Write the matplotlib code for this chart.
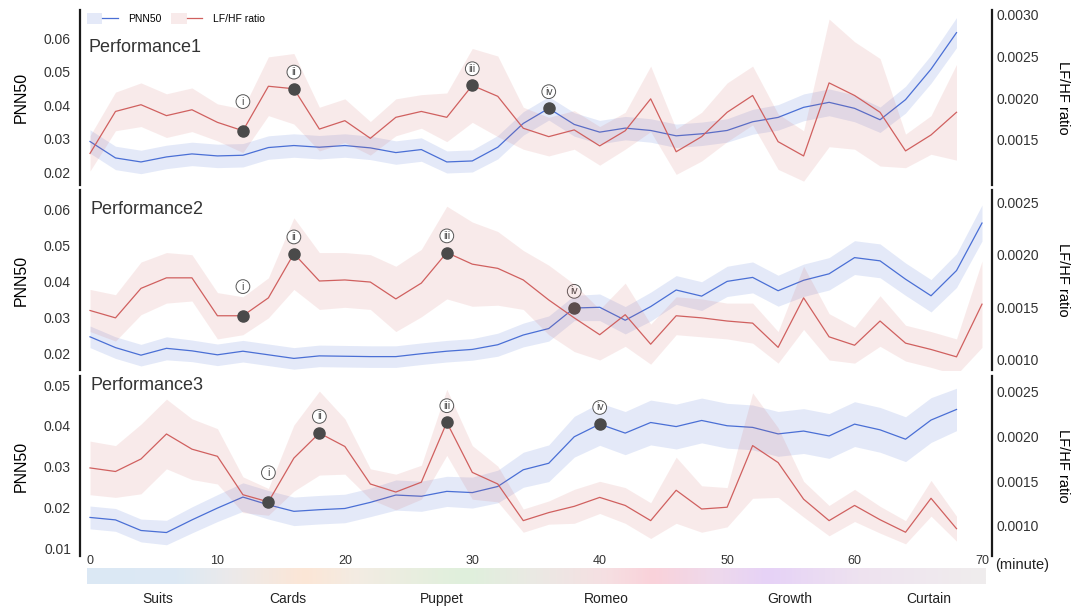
import numpy as np
import matplotlib
matplotlib.use("Agg")
import matplotlib.pyplot as plt
import matplotlib.transforms as mtransforms
from matplotlib.colors import LinearSegmentedColormap
from matplotlib.lines import Line2D
from matplotlib.patches import Patch
from matplotlib.legend_handler import HandlerTuple
from matplotlib.ticker import FormatStrFormatter

plt.rcParams['font.family'] = ['Liberation Sans', 'DejaVu Sans']

#! sampling grid (minutes), one value every 2 min
minutes = np.arange(0, 70, 2)       # performances 1 and 3: 0..68
minutes_p2 = np.arange(0, 72, 2)    # performance 2 runs to 70

#! performance 1
pnn_p1 = [0.0291, 0.0242, 0.0230, 0.0245, 0.0254, 0.0248, 0.0250, 0.0273, 0.0279,
          0.0274, 0.0279, 0.0272, 0.0258, 0.0267, 0.0230, 0.0233, 0.0274, 0.0345,
          0.0390, 0.0342, 0.0319, 0.0331, 0.0324, 0.0308, 0.0314, 0.0324, 0.0350,
          0.0363, 0.0393, 0.0408, 0.0390, 0.0356, 0.0416, 0.0507, 0.0616]
pnn_ci_p1 = [0.0035, 0.0035, 0.0035, 0.0035, 0.0035, 0.0035, 0.0035, 0.0035, 0.0035,
             0.0035, 0.0035, 0.0035, 0.0035, 0.0035, 0.0033, 0.0033, 0.0035, 0.0035,
             0.0035, 0.0035, 0.0035, 0.0035, 0.0035, 0.0035, 0.0035, 0.0035, 0.0037,
             0.0038, 0.0040, 0.0040, 0.0040, 0.0038, 0.0040, 0.0042, 0.0045]
lf_p1 = [0.00134, 0.00184, 0.00192, 0.00179, 0.00186, 0.00171, 0.00161, 0.00214, 0.00211,
         0.00163, 0.00173, 0.00152, 0.00177, 0.00184, 0.00177, 0.00215, 0.00202, 0.00164,
         0.00154, 0.00162, 0.00143, 0.00161, 0.00199, 0.00136, 0.00154, 0.00183, 0.00203,
         0.00148, 0.00131, 0.00218, 0.00203, 0.00183, 0.00137, 0.00156, 0.00183]
lf_ci_p1 = [0.00021, 0.00023, 0.00026, 0.00026, 0.00026, 0.00022, 0.00026, 0.00035, 0.00042,
            0.00026, 0.00026, 0.00020, 0.00022, 0.00020, 0.00029, 0.00044, 0.00048, 0.00025,
            0.00023, 0.00023, 0.00023, 0.00022, 0.00039, 0.00027, 0.00029, 0.00035, 0.00035,
            0.00033, 0.00030, 0.00076, 0.00064, 0.00064, 0.00020, 0.00023, 0.00057]
marks_p1 = [12, 16, 30, 36]

#! performance 2
pnn_p2 = [0.0245, 0.0215, 0.0194, 0.0213, 0.0206, 0.0195, 0.0205, 0.0195, 0.0185,
          0.0192, 0.0191, 0.0190, 0.0190, 0.0198, 0.0205, 0.0210, 0.0223, 0.0250,
          0.0268, 0.0325, 0.0327, 0.0291, 0.0329, 0.0375, 0.0358, 0.0399, 0.0410,
          0.0373, 0.0402, 0.0420, 0.0465, 0.0456, 0.0405, 0.0359, 0.0429, 0.0561]
pnn_ci_p2 = [0.0030, 0.0030, 0.0030, 0.0032, 0.0030, 0.0030, 0.0030, 0.0030, 0.0030,
             0.0030, 0.0030, 0.0030, 0.0030, 0.0030, 0.0030, 0.0030, 0.0032, 0.0033,
             0.0035, 0.0035, 0.0037, 0.0038, 0.0040, 0.0040, 0.0040, 0.0042, 0.0043,
             0.0043, 0.0045, 0.0045, 0.0047, 0.0047, 0.0045, 0.0045, 0.0047, 0.0050]
lf_p2 = [0.00147, 0.00140, 0.00168, 0.00178, 0.00178, 0.00142, 0.00142, 0.00159, 0.00201,
         0.00175, 0.00176, 0.00174, 0.00158, 0.00173, 0.00202, 0.00191, 0.00187, 0.00176,
         0.00157, 0.00140, 0.00124, 0.00143, 0.00115, 0.00142, 0.00140, 0.00137, 0.00135,
         0.00112, 0.00159, 0.00122, 0.00114, 0.00137, 0.00116, 0.00110, 0.00103, 0.00153]
lf_ci_p2 = [0.00020, 0.00022, 0.00025, 0.00024, 0.00022, 0.00022, 0.00018, 0.00019, 0.00034,
            0.00027, 0.00026, 0.00026, 0.00031, 0.00032, 0.00044, 0.00040, 0.00035, 0.00028,
            0.00033, 0.00032, 0.00024, 0.00030, 0.00019, 0.00018, 0.00018, 0.00017, 0.00019,
            0.00015, 0.00030, 0.00022, 0.00017, 0.00024, 0.00017, 0.00017, 0.00017, 0.00041]
marks_p2 = [12, 16, 28, 38]

#! performance 3
pnn_p3 = [0.0175, 0.0169, 0.0143, 0.0138, 0.0169, 0.0198, 0.0225, 0.0206, 0.0190,
          0.0194, 0.0197, 0.0212, 0.0230, 0.0227, 0.0239, 0.0236, 0.0251, 0.0292,
          0.0308, 0.0373, 0.0404, 0.0382, 0.0408, 0.0398, 0.0413, 0.0400, 0.0396,
          0.0380, 0.0387, 0.0375, 0.0404, 0.0390, 0.0367, 0.0414, 0.0440]
pnn_ci_p3 = [0.0028, 0.0028, 0.0028, 0.0030, 0.0032, 0.0033, 0.0035, 0.0035, 0.0035,
             0.0035, 0.0035, 0.0035, 0.0037, 0.0037, 0.0037, 0.0038, 0.0040, 0.0043,
             0.0045, 0.0050, 0.0052, 0.0053, 0.0055, 0.0055, 0.0055, 0.0055, 0.0055,
             0.0055, 0.0055, 0.0055, 0.0055, 0.0055, 0.0055, 0.0055, 0.0052]
lf_p3 = [0.00165, 0.00161, 0.00175, 0.00203, 0.00186, 0.00178, 0.00135, 0.00127, 0.00176,
         0.00204, 0.00189, 0.00147, 0.00138, 0.00149, 0.00216, 0.00160, 0.00147, 0.00106,
         0.00115, 0.00122, 0.00132, 0.00123, 0.00106, 0.00140, 0.00119, 0.00121, 0.00190,
         0.00171, 0.00130, 0.00106, 0.00123, 0.00107, 0.00093, 0.00131, 0.00097]
lf_ci_p3 = [0.00030, 0.00029, 0.00039, 0.00039, 0.00034, 0.00031, 0.00020, 0.00015, 0.00037,
            0.00047, 0.00031, 0.00017, 0.00020, 0.00019, 0.00037, 0.00030, 0.00020, 0.00013,
            0.00013, 0.00019, 0.00018, 0.00020, 0.00020, 0.00037, 0.00026, 0.00022, 0.00059,
            0.00039, 0.00020, 0.00017, 0.00018, 0.00015, 0.00013, 0.00020, 0.00014]
marks_p3 = [14, 18, 28, 40]

mark_labels = ['i', 'ii', 'iii', 'iv']

#! scenes along the timeline
scenes = ['Suits', 'Cards', 'Puppet', 'Romeo', 'Growth', 'Curtain']
scene_mid = [5.3, 15.5, 27.6, 40.5, 54.9, 65.8]

BLUE = '#4a6fd5'
RED = '#d0605f'
MARK = '#4a4a4a'
XLIM = (-0.785, 70.785)

fig = plt.figure(figsize=(10.76, 6.07), dpi=100)
W, H = 1076.0, 607.0

def px_axes(top, bottom, left=80, right=992):
    return fig.add_axes([left / W, 1 - bottom / H, (right - left) / W, (bottom - top) / H])

def draw_panel(ax, t, pnn, pnn_ci, lf, lf_ci, marks, ylim, yticks, ylim2, yticks2):
    t = np.asarray(t)
    pnn = np.asarray(pnn); pnn_ci = np.asarray(pnn_ci)
    lf = np.asarray(lf); lf_ci = np.asarray(lf_ci)
    ax2 = ax.twinx()

    ax.fill_between(t, pnn - pnn_ci, pnn + pnn_ci, color=BLUE, alpha=0.15, lw=0)
    ax.plot(t, pnn, color=BLUE, lw=0.9)
    ax2.fill_between(t, lf - lf_ci, lf + lf_ci, color=RED, alpha=0.13, lw=0)
    ax2.plot(t, lf, color=RED, lw=0.9)

    # key moments: first three on LF/HF, the last on PNN50
    for k, (m, lab) in enumerate(zip(marks, mark_labels)):
        idx = list(t).index(m)
        target = ax2 if k < 3 else ax
        yv = lf[idx] if k < 3 else pnn[idx]
        target.plot(m, yv, 'o', color=MARK, ms=8, zorder=5)
        off = 21 if k == 0 else 12
        target.annotate(lab, (m, yv), xytext=(0, off), textcoords='offset points',
                        ha='center', va='center', fontsize=7.5, color='#444444',
                        bbox=dict(boxstyle='circle,pad=0.18', fc='white', ec='#555555', lw=0.7),
                        zorder=6)

    ax.set_xlim(*XLIM)
    ax.set_ylim(*ylim)
    ax.set_yticks(yticks)
    ax.yaxis.set_major_formatter(FormatStrFormatter('%.2f'))
    ax2.set_ylim(*ylim2)
    ax2.set_yticks(yticks2)
    ax2.yaxis.set_major_formatter(FormatStrFormatter('%.4f'))

    for a in (ax, ax2):
        for s in ('top', 'bottom'):
            a.spines[s].set_visible(False)
    ax.spines['right'].set_visible(False)
    ax2.spines['left'].set_visible(False)
    ax.spines['left'].set_linewidth(1.6)
    ax2.spines['right'].set_linewidth(1.6)
    ax.spines['left'].set_color('#1a1a1a')
    ax2.spines['right'].set_color('#1a1a1a')

    ax.tick_params(axis='y', length=0, pad=6.5, labelsize=10, labelcolor='#333333')
    ax2.tick_params(axis='y', length=0, pad=3.5, labelsize=10, labelcolor='#333333')
    ax.tick_params(axis='x', length=0, labelbottom=False)

    ax.set_ylabel('PNN50', fontsize=11.5)
    ax.yaxis.set_label_coords(-0.056, 0.5)
    ax2.set_ylabel('LF/HF ratio', fontsize=10.5, rotation=-90, va='center')
    ax2.yaxis.set_label_coords(1.078, 0.5)

    return ax2

ax1 = px_axes(10, 185)
ax1b = draw_panel(ax1, minutes, pnn_p1, pnn_ci_p1, lf_p1, lf_ci_p1, marks_p1,
                  (0.01612, 0.06836), [0.02, 0.03, 0.04, 0.05, 0.06],
                  (0.000964, 0.003048), [0.0015, 0.0020, 0.0025, 0.0030])
ax1.text(0.009, 0.783, 'Performance1', transform=ax1.transAxes, fontsize=13,
         va='center', ha='left', color='#333333')

ax2_ = px_axes(190, 370)
ax2b = draw_panel(ax2_, minutes_p2, pnn_p2, pnn_ci_p2, lf_p2, lf_ci_p2, marks_p2,
                  (0.01528, 0.06528), [0.02, 0.03, 0.04, 0.05, 0.06],
                  (0.000905, 0.002614), [0.0010, 0.0015, 0.0020, 0.0025])
ax2_.text(0.012, 0.889, 'Performance2', transform=ax2_.transAxes, fontsize=13,
          va='center', ha='left', color='#333333')

ax3 = px_axes(376, 556)
ax3b = draw_panel(ax3, minutes, pnn_p3, pnn_ci_p3, lf_p3, lf_ci_p3, marks_p3,
                  (0.00804, 0.05221), [0.01, 0.02, 0.03, 0.04, 0.05],
                  (0.000664, 0.002679), [0.0010, 0.0015, 0.0020, 0.0025])
ax3.text(0.011, 0.95, 'Performance3', transform=ax3.transAxes, fontsize=13,
         va='center', ha='left', color='#333333')

# minute axis only under the last panel
ax3.set_xticks([0, 10, 20, 30, 40, 50, 60, 70])
ax3.tick_params(axis='x', length=0, pad=-1, labelbottom=True, labelsize=9, labelcolor='#333333')
ax3.text(1.003, -0.01, '(minute)', transform=ax3.transAxes, fontsize=10.5,
         ha='left', va='top', color='#222222')

# legend with band + line handles
h_pnn = (Patch(facecolor=BLUE, alpha=0.15, lw=0), Line2D([], [], color=BLUE, lw=0.9))
h_lf = (Patch(facecolor=RED, alpha=0.13, lw=0), Line2D([], [], color=RED, lw=0.9))
ax1b.legend([h_pnn, h_lf], ['PNN50', 'LF/HF ratio'], loc='upper left',
            bbox_to_anchor=(0.004, 1.0), ncol=2, frameon=False, fontsize=7.5,
            handlelength=3.0, handleheight=1.25, handletextpad=1.0, columnspacing=0.9,
            borderaxespad=0, borderpad=0.3,
            handler_map={tuple: HandlerTuple(ndivide=None, pad=0)})

# scene colour strip
strip_colors = [(0.0, '#dbe8f5'), (0.10, '#dde9f4'), (0.16, '#eceaea'), (0.24, '#fce6d6'),
                (0.30, '#f3ece3'), (0.42, '#dff0dc'), (0.50, '#ebe9e4'), (0.58, '#f6dfe2'),
                (0.63, '#fad2da'), (0.70, '#eed9ec'), (0.76, '#e6d2f7'), (0.86, '#eee2f0'),
                (1.0, '#f0eded')]
cmap = LinearSegmentedColormap.from_list('scenes', strip_colors)
axs = px_axes(568, 584)
axs.imshow(np.linspace(0, 1, 400)[None, :], aspect='auto', cmap=cmap,
           extent=(-0.24, 70.25, 0, 1), interpolation='bicubic')
axs.set_xlim(*XLIM)
axs.set_ylim(0, 1)
axs.axis('off')
trans = mtransforms.blended_transform_factory(axs.transData, axs.transAxes)
for name, x in zip(scenes, scene_mid):
    axs.text(x, -0.95, name, transform=trans, ha='center', va='center',
             fontsize=10, color='#222222')

fig.savefig('out.png', dpi=100)
